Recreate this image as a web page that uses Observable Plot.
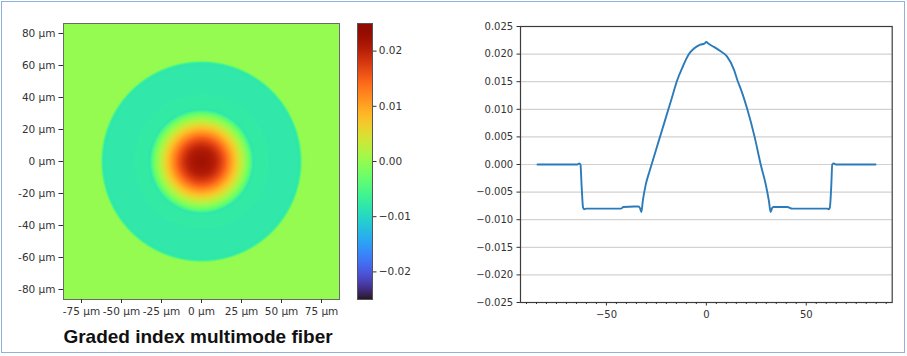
<!DOCTYPE html>
<html>
<head>
<meta charset="utf-8">
<script src="https://cdn.jsdelivr.net/npm/d3@7"></script>
<script src="https://cdn.jsdelivr.net/npm/@observablehq/plot@0.6"></script>
<style>
html, body { margin: 0; padding: 0; background: #fff; }
#wrap { position: relative; width: 907px; height: 356px; overflow: hidden; background: #fff; }
.p { position: absolute; }
#border { position: absolute; left: 1px; top: 1px; width: 904px; height: 352px; box-sizing: border-box;
  border: 1.5px solid #8fb1dc; pointer-events: none; }
#title { position: absolute; left: 0; width: 396px; top: 327px; text-align: center;
  font: bold 19px/19px "Liberation Sans", Arial, sans-serif; color: #111; white-space: nowrap; }
</style>
</head>
<body>
<div id="wrap">
  <div class="p" id="heat" style="left:0;top:0"></div>
  <div class="p" id="cbar" style="left:340px;top:0"></div>
  <div class="p" id="prof" style="left:460px;top:0"></div>
  <div id="title">Graded index multimode fiber</div>
  <div id="border"></div>
</div>
<script>
// ---- data ----
// Refractive-index difference profile (line plot, right panel)
const profileX = [-84.5, -72, -64.6, -63.6, -63.0, -62.4, -61.7, -61.2, -60, -50, -42.8, -41.5, -36, -34, -33.2,
  -32.5, -31.8, -30.3, -28.5, -27.4, -25.3, -23.2, -21.1, -19.0, -16.9, -14.85, -11.7, -8.7, -6.2, -3.0, -1.0, 0,
  1.0, 3.8, 7.15, 10.3, 13.8, 15.8, 17.2, 20.5, 24.15, 27.2, 29.65, 31.3, 32.15, 32.9, 33.5, 40.5, 43.0,
  60.5, 61.2, 61.8, 62.5, 63.0, 63.8, 64.8, 72, 84.65];
const profileV = [0, 0, 0, 0.0002, 0.0000, -0.0040, -0.0078, -0.0081, -0.0080, -0.0080, -0.0080, -0.0077, -0.0076, -0.0076, -0.0079,
  -0.0086, -0.0066, -0.0036, -0.0013, 0.0000, 0.0025, 0.0050, 0.0075, 0.0100, 0.0125, 0.0150, 0.0178, 0.0200, 0.0210, 0.0217, 0.0219, 0.0222,
  0.0219, 0.0213, 0.0205, 0.0196, 0.0172, 0.0150, 0.0137, 0.0100, 0.0050, 0.0000, -0.0035, -0.0066, -0.0086, -0.0079, -0.0077, -0.0077, -0.0080,
  -0.0080, -0.0081, -0.0078, -0.0040, 0.0000, 0.0002, 0, 0, 0];

// tick labels
const heatXTicks = [-75, -50, -25, 0, 25, 50, 75];
const heatYTicks = [-80, -60, -40, -20, 0, 20, 40, 60, 80];
const cbarTicks = [-0.02, -0.01, 0.00, 0.01, 0.02];
const profYTicks = [-0.025, -0.020, -0.015, -0.010, -0.005, 0.000, 0.005, 0.010, 0.015, 0.020, 0.025];
const profXMajor = [-50, 0, 50];
const profXMinor = [-90, -85, -80, -75, -70, -65, -60, -55, -45, -40, -35, -30, -25, -20, -15, -10, -5,
  5, 10, 15, 20, 25, 30, 35, 40, 45, 55, 60, 65, 70, 75, 80, 85, 90];

// ---- derived tables ----
const profile = profileX.map((x, i) => ({x, v: profileV[i]}));
// radial profile (left half) used to paint the 2D cross-section map
const radial = profile.filter(d => d.x <= 0).map(d => ({r: -d.x, v: d.v})).sort((a, b) => a.r - b.r);
const bis = d3.bisector(d => d.r).right;
function valueAtRadius(r) {
  const last = radial[radial.length - 1];
  if (r >= last.r) return last.v;
  const i = Math.max(1, bis(radial, r));
  const a = radial[i - 1], b = radial[i];
  const t = (r - a.r) / (b.r - a.r);
  return a.v + t * (b.v - a.v);
}

const colorOpts = {type: "linear", scheme: "turbo", domain: [-0.025, 0.025]};
const E = 86.25;

// ---- left: cross-section map ----
const heat = Plot.plot({
  width: 360, height: 330,
  marginLeft: 63, marginRight: 21, marginTop: 23, marginBottom: 31,
  x: {domain: [-E, E], label: null},
  y: {domain: [-E, E], label: null},
  color: colorOpts,
  style: {fontFamily: "DejaVu Sans", fontSize: "10.5px", color: "#333", background: "transparent", overflow: "visible"},
  marks: [
    Plot.raster({fill: (x, y) => valueAtRadius(Math.hypot(x, y)), x1: -E, x2: E, y1: -E, y2: E, pixelSize: 1}),
    Plot.frame({stroke: "#6a6a6a", strokeWidth: 1}),
    Plot.axisX(heatXTicks, {tickFormat: d => `${d} µm`, tickSize: 4, tickPadding: 4, label: null}),
    Plot.axisY(heatYTicks, {tickFormat: d => `${d} µm`, tickSize: 4.5, tickPadding: 3.5, label: null})
  ]
});
document.getElementById("heat").appendChild(heat);

// ---- colorbar ----
const cbar = Plot.plot({
  width: 80, height: 330,
  marginLeft: 17, marginRight: 48, marginTop: 23, marginBottom: 31,
  x: {domain: [0, 1], axis: null, label: null},
  y: {domain: [-0.025, 0.025], label: null},
  color: colorOpts,
  style: {fontFamily: "DejaVu Sans", fontSize: "10.5px", color: "#333", background: "transparent", overflow: "visible"},
  marks: [
    Plot.raster({fill: (x, y) => y, x1: 0, x2: 1, y1: -0.025, y2: 0.025, pixelSize: 1}),
    Plot.frame({stroke: "#555", strokeWidth: 1}),
    Plot.axisY(cbarTicks, {anchor: "right", tickFormat: d3.format(".2f"), tickSize: 3.5, tickPadding: 2.8, label: null})
  ]
});
document.getElementById("cbar").appendChild(cbar);

// ---- right: profile line ----
const prof = Plot.plot({
  width: 447, height: 330,
  marginLeft: 60, marginRight: 15.3, marginTop: 26, marginBottom: 28,
  x: {domain: [-93, 93], label: null},
  y: {domain: [-0.025, 0.025], label: null},
  style: {fontFamily: "DejaVu Sans", fontSize: "10px", color: "#333", background: "transparent", overflow: "visible"},
  marks: [
    Plot.ruleY(profYTicks, {stroke: "#d2d2d2", strokeWidth: 1.2}),
    Plot.line(profile, {x: "x", y: "v", stroke: "#2b7bba", strokeWidth: 1.9, curve: "monotone-x"}),
    Plot.frame({stroke: "#3c3c3c", strokeWidth: 1.2}),
    Plot.axisY(profYTicks, {tickFormat: d3.format(".3f"), tickSize: 3.5, tickPadding: 3.8, label: null}),
    Plot.axisX(profXMinor, {tickFormat: () => "", tickSize: 2, label: null}),
    Plot.axisX(profXMajor, {tickFormat: d3.format("d"), tickSize: 3.5, tickPadding: 5, label: null})
  ]
});
document.getElementById("prof").appendChild(prof);
</script>
</body>
</html>
